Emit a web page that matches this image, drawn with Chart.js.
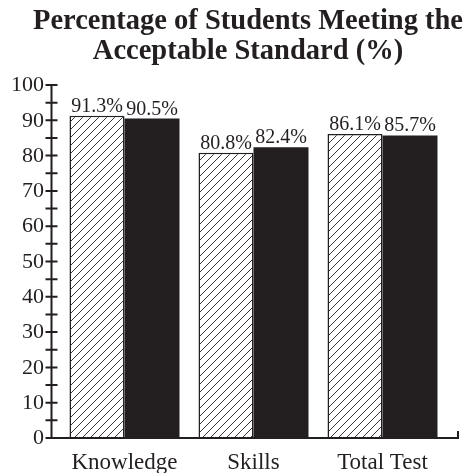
<!DOCTYPE html>
<html>
<head>
<meta charset="utf-8">
<script src="https://cdn.jsdelivr.net/npm/chart.js@4/dist/chart.umd.min.js"></script>
<style>
  html, body { margin: 0; padding: 0; background: #ffffff; }
  #wrap { width: 476px; height: 473px; }
</style>
</head>
<body>
<div id="wrap"><canvas id="c" width="476" height="473"></canvas></div>
<script>
// ---- data ----
const categories = ['Knowledge', 'Skills', 'Total Test'];
const seriesA = [91.3, 80.8, 86.1];   // hatched bars
const seriesB = [90.5, 82.4, 85.7];   // solid bars
const titleLines = ['Percentage of Students Meeting the', 'Acceptable Standard (%)'];
const yMajorTicks = [0, 10, 20, 30, 40, 50, 60, 70, 80, 90, 100];
const yMinorTicks = [5, 15, 25, 35, 45, 55, 65, 75, 85, 95];

// ---- styles ----
const INK = '#231f20';
const SERIF = "'Liberation Serif', 'Times New Roman', serif";

function makeHatch() {
  const t = document.createElement('canvas');
  t.width = 8; t.height = 8;
  const g = t.getContext('2d');
  g.fillStyle = '#ffffff';
  g.fillRect(0, 0, 8, 8);
  g.strokeStyle = '#3a3637';
  g.lineWidth = 1;
  g.beginPath();
  g.moveTo(0, 8); g.lineTo(8, 0);
  g.moveTo(-2, 2); g.lineTo(2, -2);
  g.moveTo(6, 10); g.lineTo(10, 6);
  g.stroke();
  return document.getElementById('c').getContext('2d').createPattern(t, 'repeat');
}

// widen the title box so the long first line is not squeezed, centred like the original
const titleBoxPlugin = {
  id: 'titleBoxPlugin',
  afterLayout(chart) {
    const tb = chart.titleBlock;
    if (tb) { tb.left = 20; tb.right = chart.width; }
  }
};

const axesPlugin = {
  id: 'axesPlugin',
  afterDatasetsDraw(chart) {
    const { ctx, chartArea, scales } = chart;
    const y = scales.y;
    const ax = chartArea.left - 8.5;
    const yBottom = y.getPixelForValue(0);
    const yTop = y.getPixelForValue(100);
    const xEnd = chartArea.right + 11;
    ctx.save();
    ctx.strokeStyle = INK;
    ctx.lineWidth = 2;
    ctx.beginPath();
    ctx.moveTo(ax, yTop);
    ctx.lineTo(ax, yBottom);
    ctx.moveTo(ax - 1, yBottom);
    ctx.lineTo(xEnd, yBottom);
    ctx.lineTo(xEnd, yBottom - 7);
    ctx.stroke();
    ctx.beginPath();
    [...yMajorTicks, ...yMinorTicks].forEach(v => {
      const py = y.getPixelForValue(v);
      ctx.moveTo(ax - 6, py);
      ctx.lineTo(ax + (v === 0 ? 0 : 6), py);
    });
    ctx.stroke();

    // y tick labels
    ctx.fillStyle = INK;
    ctx.font = '22px ' + SERIF;
    ctx.textAlign = 'right';
    ctx.textBaseline = 'middle';
    yMajorTicks.forEach(v => {
      ctx.fillText(String(v), ax - 7.5, y.getPixelForValue(v) + 0.5);
    });

    // value labels
    ctx.font = '20px ' + SERIF;
    ctx.textAlign = 'center';
    ctx.textBaseline = 'alphabetic';
    chart.data.datasets.forEach((ds, di) => {
      const meta = chart.getDatasetMeta(di);
      meta.data.forEach((el, i) => {
        ctx.fillText(ds.data[i].toFixed(1) + '%', el.x, el.y - 4);
      });
    });
    ctx.restore();
  }
};

const ctx = document.getElementById('c').getContext('2d');
new Chart(ctx, {
  type: 'bar',
  data: {
    labels: categories,
    datasets: [
      {
        data: seriesA,
        backgroundColor: makeHatch(),
        borderColor: INK,
        borderWidth: 1.5,
        barThickness: 55,
        inflateAmount: 0
      },
      {
        data: seriesB,
        backgroundColor: INK,
        borderWidth: 0,
        barThickness: 55,
        inflateAmount: 0
      }
    ]
  },
  options: {
    responsive: false,
    animation: false,
    devicePixelRatio: 1,
    layout: { padding: { left: 49, right: 29, top: 0, bottom: 0 } },
    plugins: {
      legend: { display: false },
      tooltip: { enabled: false },
      title: {
        display: true,
        text: titleLines,
        color: INK,
        font: { family: SERIF, size: 28.5, weight: 'bold', lineHeight: 30 / 28.5 },
        padding: { top: 7, bottom: 18 }
      }
    },
    scales: {
      x: {
        grid: { display: false, drawTicks: false },
        border: { display: false },
        afterFit(scale) { scale.height = 35; },
        ticks: {
          color: INK,
          font: { family: SERIF, size: 23 },
          padding: 11,
          maxRotation: 0
        }
      },
      y: {
        min: 0,
        max: 100,
        grid: { display: false, drawTicks: false },
        border: { display: false },
        afterFit(scale) { scale.width = 11; },
        ticks: { display: false, stepSize: 10 }
      }
    }
  },
  plugins: [titleBoxPlugin, axesPlugin]
});
</script>
</body>
</html>
